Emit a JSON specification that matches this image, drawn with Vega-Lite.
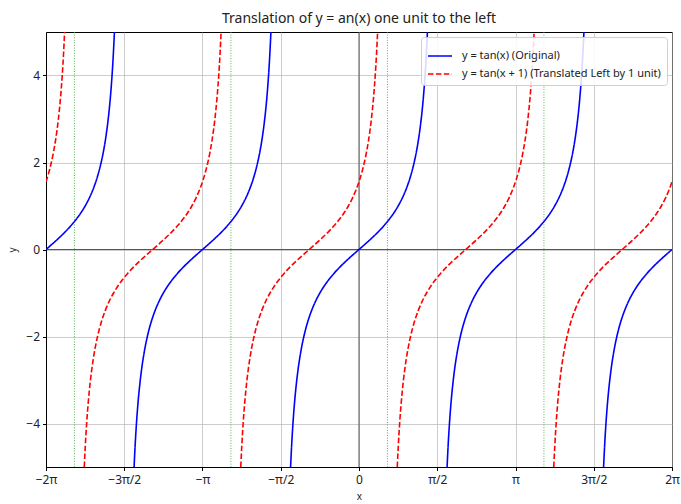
{
  "$schema": "https://vega.github.io/schema/vega-lite/v6.json",
  "width": 626,
  "height": 435,
  "autosize": {"type": "none"},
  "padding": {"left": 46, "top": 32, "right": 9, "bottom": 37},
  "background": "white",
  "title": {
    "text": "Translation of y = an(x) one unit to the left",
    "font": "Noto Sans",
    "fontSize": 14,
    "fontWeight": "normal",
    "color": "#222",
    "anchor": "middle",
    "offset": 6
  },
  "config": {
    "font": "Noto Sans",
    "view": {"stroke": "#000", "strokeWidth": 1},
    "axis": {
      "labelFont": "Noto Sans",
      "labelFontSize": 12,
      "labelColor": "#222",
      "titleFont": "Noto Sans",
      "titleFontSize": 10,
      "titleFontWeight": "normal",
      "titleColor": "#222",
      "tickColor": "#000",
      "tickSize": 3.5,
      "domainColor": "#000",
      "gridColor": "#b0b0b0",
      "gridWidth": 0.8,
      "gridOpacity": 0.8
    }
  },
  "datasets": {
    "asymptotes": [
      {"x": -5.7124},
      {"x": -2.5708},
      {"x": 0.5708},
      {"x": 3.7124}
    ],
    "curves": [
      {"curve": "orig", "branch": "b1", "x": -6.2832, "y": 0},
      {"curve": "orig", "branch": "b1", "x": -6.1835, "y": 0.1},
      {"curve": "orig", "branch": "b1", "x": -6.0382, "y": 0.25},
      {"curve": "orig", "branch": "b1", "x": -5.9027, "y": 0.4},
      {"curve": "orig", "branch": "b1", "x": -5.7804, "y": 0.55},
      {"curve": "orig", "branch": "b1", "x": -5.6725, "y": 0.7},
      {"curve": "orig", "branch": "b1", "x": -5.5787, "y": 0.85},
      {"curve": "orig", "branch": "b1", "x": -5.4978, "y": 1},
      {"curve": "orig", "branch": "b1", "x": -5.4071, "y": 1.2},
      {"curve": "orig", "branch": "b1", "x": -5.3327, "y": 1.4},
      {"curve": "orig", "branch": "b1", "x": -5.2710, "y": 1.6},
      {"curve": "orig", "branch": "b1", "x": -5.2195, "y": 1.8},
      {"curve": "orig", "branch": "b1", "x": -5.1761, "y": 2},
      {"curve": "orig", "branch": "b1", "x": -5.1306, "y": 2.25},
      {"curve": "orig", "branch": "b1", "x": -5.0929, "y": 2.5},
      {"curve": "orig", "branch": "b1", "x": -5.0612, "y": 2.75},
      {"curve": "orig", "branch": "b1", "x": -5.0342, "y": 3},
      {"curve": "orig", "branch": "b1", "x": -4.9907, "y": 3.5},
      {"curve": "orig", "branch": "b1", "x": -4.9574, "y": 4},
      {"curve": "orig", "branch": "b1", "x": -4.9311, "y": 4.5},
      {"curve": "orig", "branch": "b1", "x": -4.9098, "y": 5},

      {"curve": "orig", "branch": "b2", "x": -4.5150, "y": -5},
      {"curve": "orig", "branch": "b2", "x": -4.4937, "y": -4.5},
      {"curve": "orig", "branch": "b2", "x": -4.4674, "y": -4},
      {"curve": "orig", "branch": "b2", "x": -4.4341, "y": -3.5},
      {"curve": "orig", "branch": "b2", "x": -4.3906, "y": -3},
      {"curve": "orig", "branch": "b2", "x": -4.3636, "y": -2.75},
      {"curve": "orig", "branch": "b2", "x": -4.3319, "y": -2.5},
      {"curve": "orig", "branch": "b2", "x": -4.2942, "y": -2.25},
      {"curve": "orig", "branch": "b2", "x": -4.2487, "y": -2},
      {"curve": "orig", "branch": "b2", "x": -4.2053, "y": -1.8},
      {"curve": "orig", "branch": "b2", "x": -4.1538, "y": -1.6},
      {"curve": "orig", "branch": "b2", "x": -4.0921, "y": -1.4},
      {"curve": "orig", "branch": "b2", "x": -4.0177, "y": -1.2},
      {"curve": "orig", "branch": "b2", "x": -3.9270, "y": -1},
      {"curve": "orig", "branch": "b2", "x": -3.8461, "y": -0.85},
      {"curve": "orig", "branch": "b2", "x": -3.7523, "y": -0.7},
      {"curve": "orig", "branch": "b2", "x": -3.6444, "y": -0.55},
      {"curve": "orig", "branch": "b2", "x": -3.5221, "y": -0.4},
      {"curve": "orig", "branch": "b2", "x": -3.3866, "y": -0.25},
      {"curve": "orig", "branch": "b2", "x": -3.2413, "y": -0.1},
      {"curve": "orig", "branch": "b2", "x": -3.1416, "y": 0},
      {"curve": "orig", "branch": "b2", "x": -3.0419, "y": 0.1},
      {"curve": "orig", "branch": "b2", "x": -2.8966, "y": 0.25},
      {"curve": "orig", "branch": "b2", "x": -2.7611, "y": 0.4},
      {"curve": "orig", "branch": "b2", "x": -2.6388, "y": 0.55},
      {"curve": "orig", "branch": "b2", "x": -2.5309, "y": 0.7},
      {"curve": "orig", "branch": "b2", "x": -2.4371, "y": 0.85},
      {"curve": "orig", "branch": "b2", "x": -2.3562, "y": 1},
      {"curve": "orig", "branch": "b2", "x": -2.2655, "y": 1.2},
      {"curve": "orig", "branch": "b2", "x": -2.1911, "y": 1.4},
      {"curve": "orig", "branch": "b2", "x": -2.1294, "y": 1.6},
      {"curve": "orig", "branch": "b2", "x": -2.0779, "y": 1.8},
      {"curve": "orig", "branch": "b2", "x": -2.0345, "y": 2},
      {"curve": "orig", "branch": "b2", "x": -1.9890, "y": 2.25},
      {"curve": "orig", "branch": "b2", "x": -1.9513, "y": 2.5},
      {"curve": "orig", "branch": "b2", "x": -1.9196, "y": 2.75},
      {"curve": "orig", "branch": "b2", "x": -1.8926, "y": 3},
      {"curve": "orig", "branch": "b2", "x": -1.8491, "y": 3.5},
      {"curve": "orig", "branch": "b2", "x": -1.8158, "y": 4},
      {"curve": "orig", "branch": "b2", "x": -1.7895, "y": 4.5},
      {"curve": "orig", "branch": "b2", "x": -1.7682, "y": 5},

      {"curve": "orig", "branch": "b3", "x": -1.3734, "y": -5},
      {"curve": "orig", "branch": "b3", "x": -1.3521, "y": -4.5},
      {"curve": "orig", "branch": "b3", "x": -1.3258, "y": -4},
      {"curve": "orig", "branch": "b3", "x": -1.2925, "y": -3.5},
      {"curve": "orig", "branch": "b3", "x": -1.2490, "y": -3},
      {"curve": "orig", "branch": "b3", "x": -1.2220, "y": -2.75},
      {"curve": "orig", "branch": "b3", "x": -1.1903, "y": -2.5},
      {"curve": "orig", "branch": "b3", "x": -1.1526, "y": -2.25},
      {"curve": "orig", "branch": "b3", "x": -1.1071, "y": -2},
      {"curve": "orig", "branch": "b3", "x": -1.0637, "y": -1.8},
      {"curve": "orig", "branch": "b3", "x": -1.0122, "y": -1.6},
      {"curve": "orig", "branch": "b3", "x": -0.9505, "y": -1.4},
      {"curve": "orig", "branch": "b3", "x": -0.8761, "y": -1.2},
      {"curve": "orig", "branch": "b3", "x": -0.7854, "y": -1},
      {"curve": "orig", "branch": "b3", "x": -0.7045, "y": -0.85},
      {"curve": "orig", "branch": "b3", "x": -0.6107, "y": -0.7},
      {"curve": "orig", "branch": "b3", "x": -0.5028, "y": -0.55},
      {"curve": "orig", "branch": "b3", "x": -0.3805, "y": -0.4},
      {"curve": "orig", "branch": "b3", "x": -0.2450, "y": -0.25},
      {"curve": "orig", "branch": "b3", "x": -0.0997, "y": -0.1},
      {"curve": "orig", "branch": "b3", "x": 0, "y": 0},
      {"curve": "orig", "branch": "b3", "x": 0.0997, "y": 0.1},
      {"curve": "orig", "branch": "b3", "x": 0.2450, "y": 0.25},
      {"curve": "orig", "branch": "b3", "x": 0.3805, "y": 0.4},
      {"curve": "orig", "branch": "b3", "x": 0.5028, "y": 0.55},
      {"curve": "orig", "branch": "b3", "x": 0.6107, "y": 0.7},
      {"curve": "orig", "branch": "b3", "x": 0.7045, "y": 0.85},
      {"curve": "orig", "branch": "b3", "x": 0.7854, "y": 1},
      {"curve": "orig", "branch": "b3", "x": 0.8761, "y": 1.2},
      {"curve": "orig", "branch": "b3", "x": 0.9505, "y": 1.4},
      {"curve": "orig", "branch": "b3", "x": 1.0122, "y": 1.6},
      {"curve": "orig", "branch": "b3", "x": 1.0637, "y": 1.8},
      {"curve": "orig", "branch": "b3", "x": 1.1071, "y": 2},
      {"curve": "orig", "branch": "b3", "x": 1.1526, "y": 2.25},
      {"curve": "orig", "branch": "b3", "x": 1.1903, "y": 2.5},
      {"curve": "orig", "branch": "b3", "x": 1.2220, "y": 2.75},
      {"curve": "orig", "branch": "b3", "x": 1.2490, "y": 3},
      {"curve": "orig", "branch": "b3", "x": 1.2925, "y": 3.5},
      {"curve": "orig", "branch": "b3", "x": 1.3258, "y": 4},
      {"curve": "orig", "branch": "b3", "x": 1.3521, "y": 4.5},
      {"curve": "orig", "branch": "b3", "x": 1.3734, "y": 5},

      {"curve": "orig", "branch": "b4", "x": 1.7682, "y": -5},
      {"curve": "orig", "branch": "b4", "x": 1.7895, "y": -4.5},
      {"curve": "orig", "branch": "b4", "x": 1.8158, "y": -4},
      {"curve": "orig", "branch": "b4", "x": 1.8491, "y": -3.5},
      {"curve": "orig", "branch": "b4", "x": 1.8926, "y": -3},
      {"curve": "orig", "branch": "b4", "x": 1.9196, "y": -2.75},
      {"curve": "orig", "branch": "b4", "x": 1.9513, "y": -2.5},
      {"curve": "orig", "branch": "b4", "x": 1.9890, "y": -2.25},
      {"curve": "orig", "branch": "b4", "x": 2.0345, "y": -2},
      {"curve": "orig", "branch": "b4", "x": 2.0779, "y": -1.8},
      {"curve": "orig", "branch": "b4", "x": 2.1294, "y": -1.6},
      {"curve": "orig", "branch": "b4", "x": 2.1911, "y": -1.4},
      {"curve": "orig", "branch": "b4", "x": 2.2655, "y": -1.2},
      {"curve": "orig", "branch": "b4", "x": 2.3562, "y": -1},
      {"curve": "orig", "branch": "b4", "x": 2.4371, "y": -0.85},
      {"curve": "orig", "branch": "b4", "x": 2.5309, "y": -0.7},
      {"curve": "orig", "branch": "b4", "x": 2.6388, "y": -0.55},
      {"curve": "orig", "branch": "b4", "x": 2.7611, "y": -0.4},
      {"curve": "orig", "branch": "b4", "x": 2.8966, "y": -0.25},
      {"curve": "orig", "branch": "b4", "x": 3.0419, "y": -0.1},
      {"curve": "orig", "branch": "b4", "x": 3.1416, "y": 0},
      {"curve": "orig", "branch": "b4", "x": 3.2413, "y": 0.1},
      {"curve": "orig", "branch": "b4", "x": 3.3866, "y": 0.25},
      {"curve": "orig", "branch": "b4", "x": 3.5221, "y": 0.4},
      {"curve": "orig", "branch": "b4", "x": 3.6444, "y": 0.55},
      {"curve": "orig", "branch": "b4", "x": 3.7523, "y": 0.7},
      {"curve": "orig", "branch": "b4", "x": 3.8461, "y": 0.85},
      {"curve": "orig", "branch": "b4", "x": 3.9270, "y": 1},
      {"curve": "orig", "branch": "b4", "x": 4.0177, "y": 1.2},
      {"curve": "orig", "branch": "b4", "x": 4.0921, "y": 1.4},
      {"curve": "orig", "branch": "b4", "x": 4.1538, "y": 1.6},
      {"curve": "orig", "branch": "b4", "x": 4.2053, "y": 1.8},
      {"curve": "orig", "branch": "b4", "x": 4.2487, "y": 2},
      {"curve": "orig", "branch": "b4", "x": 4.2942, "y": 2.25},
      {"curve": "orig", "branch": "b4", "x": 4.3319, "y": 2.5},
      {"curve": "orig", "branch": "b4", "x": 4.3636, "y": 2.75},
      {"curve": "orig", "branch": "b4", "x": 4.3906, "y": 3},
      {"curve": "orig", "branch": "b4", "x": 4.4341, "y": 3.5},
      {"curve": "orig", "branch": "b4", "x": 4.4674, "y": 4},
      {"curve": "orig", "branch": "b4", "x": 4.4937, "y": 4.5},
      {"curve": "orig", "branch": "b4", "x": 4.5150, "y": 5},

      {"curve": "orig", "branch": "b5", "x": 4.9098, "y": -5},
      {"curve": "orig", "branch": "b5", "x": 4.9311, "y": -4.5},
      {"curve": "orig", "branch": "b5", "x": 4.9574, "y": -4},
      {"curve": "orig", "branch": "b5", "x": 4.9907, "y": -3.5},
      {"curve": "orig", "branch": "b5", "x": 5.0342, "y": -3},
      {"curve": "orig", "branch": "b5", "x": 5.0612, "y": -2.75},
      {"curve": "orig", "branch": "b5", "x": 5.0929, "y": -2.5},
      {"curve": "orig", "branch": "b5", "x": 5.1306, "y": -2.25},
      {"curve": "orig", "branch": "b5", "x": 5.1761, "y": -2},
      {"curve": "orig", "branch": "b5", "x": 5.2195, "y": -1.8},
      {"curve": "orig", "branch": "b5", "x": 5.2710, "y": -1.6},
      {"curve": "orig", "branch": "b5", "x": 5.3327, "y": -1.4},
      {"curve": "orig", "branch": "b5", "x": 5.4071, "y": -1.2},
      {"curve": "orig", "branch": "b5", "x": 5.4978, "y": -1},
      {"curve": "orig", "branch": "b5", "x": 5.5787, "y": -0.85},
      {"curve": "orig", "branch": "b5", "x": 5.6725, "y": -0.7},
      {"curve": "orig", "branch": "b5", "x": 5.7804, "y": -0.55},
      {"curve": "orig", "branch": "b5", "x": 5.9027, "y": -0.4},
      {"curve": "orig", "branch": "b5", "x": 6.0382, "y": -0.25},
      {"curve": "orig", "branch": "b5", "x": 6.1835, "y": -0.1},
      {"curve": "orig", "branch": "b5", "x": 6.2832, "y": 0},

      {"curve": "shift", "branch": "r1", "x": -6.2832, "y": 1.5574},
      {"curve": "shift", "branch": "r1", "x": -6.2710, "y": 1.6},
      {"curve": "shift", "branch": "r1", "x": -6.2195, "y": 1.8},
      {"curve": "shift", "branch": "r1", "x": -6.1761, "y": 2},
      {"curve": "shift", "branch": "r1", "x": -6.1306, "y": 2.25},
      {"curve": "shift", "branch": "r1", "x": -6.0929, "y": 2.5},
      {"curve": "shift", "branch": "r1", "x": -6.0612, "y": 2.75},
      {"curve": "shift", "branch": "r1", "x": -6.0342, "y": 3},
      {"curve": "shift", "branch": "r1", "x": -5.9907, "y": 3.5},
      {"curve": "shift", "branch": "r1", "x": -5.9574, "y": 4},
      {"curve": "shift", "branch": "r1", "x": -5.9311, "y": 4.5},
      {"curve": "shift", "branch": "r1", "x": -5.9098, "y": 5},

      {"curve": "shift", "branch": "r2", "x": -5.5150, "y": -5},
      {"curve": "shift", "branch": "r2", "x": -5.4937, "y": -4.5},
      {"curve": "shift", "branch": "r2", "x": -5.4674, "y": -4},
      {"curve": "shift", "branch": "r2", "x": -5.4341, "y": -3.5},
      {"curve": "shift", "branch": "r2", "x": -5.3906, "y": -3},
      {"curve": "shift", "branch": "r2", "x": -5.3636, "y": -2.75},
      {"curve": "shift", "branch": "r2", "x": -5.3319, "y": -2.5},
      {"curve": "shift", "branch": "r2", "x": -5.2942, "y": -2.25},
      {"curve": "shift", "branch": "r2", "x": -5.2487, "y": -2},
      {"curve": "shift", "branch": "r2", "x": -5.2053, "y": -1.8},
      {"curve": "shift", "branch": "r2", "x": -5.1538, "y": -1.6},
      {"curve": "shift", "branch": "r2", "x": -5.0921, "y": -1.4},
      {"curve": "shift", "branch": "r2", "x": -5.0177, "y": -1.2},
      {"curve": "shift", "branch": "r2", "x": -4.9270, "y": -1},
      {"curve": "shift", "branch": "r2", "x": -4.8461, "y": -0.85},
      {"curve": "shift", "branch": "r2", "x": -4.7523, "y": -0.7},
      {"curve": "shift", "branch": "r2", "x": -4.6444, "y": -0.55},
      {"curve": "shift", "branch": "r2", "x": -4.5221, "y": -0.4},
      {"curve": "shift", "branch": "r2", "x": -4.3866, "y": -0.25},
      {"curve": "shift", "branch": "r2", "x": -4.2413, "y": -0.1},
      {"curve": "shift", "branch": "r2", "x": -4.1416, "y": 0},
      {"curve": "shift", "branch": "r2", "x": -4.0419, "y": 0.1},
      {"curve": "shift", "branch": "r2", "x": -3.8966, "y": 0.25},
      {"curve": "shift", "branch": "r2", "x": -3.7611, "y": 0.4},
      {"curve": "shift", "branch": "r2", "x": -3.6388, "y": 0.55},
      {"curve": "shift", "branch": "r2", "x": -3.5309, "y": 0.7},
      {"curve": "shift", "branch": "r2", "x": -3.4371, "y": 0.85},
      {"curve": "shift", "branch": "r2", "x": -3.3562, "y": 1},
      {"curve": "shift", "branch": "r2", "x": -3.2655, "y": 1.2},
      {"curve": "shift", "branch": "r2", "x": -3.1911, "y": 1.4},
      {"curve": "shift", "branch": "r2", "x": -3.1294, "y": 1.6},
      {"curve": "shift", "branch": "r2", "x": -3.0779, "y": 1.8},
      {"curve": "shift", "branch": "r2", "x": -3.0345, "y": 2},
      {"curve": "shift", "branch": "r2", "x": -2.9890, "y": 2.25},
      {"curve": "shift", "branch": "r2", "x": -2.9513, "y": 2.5},
      {"curve": "shift", "branch": "r2", "x": -2.9196, "y": 2.75},
      {"curve": "shift", "branch": "r2", "x": -2.8926, "y": 3},
      {"curve": "shift", "branch": "r2", "x": -2.8491, "y": 3.5},
      {"curve": "shift", "branch": "r2", "x": -2.8158, "y": 4},
      {"curve": "shift", "branch": "r2", "x": -2.7895, "y": 4.5},
      {"curve": "shift", "branch": "r2", "x": -2.7682, "y": 5},

      {"curve": "shift", "branch": "r3", "x": -2.3734, "y": -5},
      {"curve": "shift", "branch": "r3", "x": -2.3521, "y": -4.5},
      {"curve": "shift", "branch": "r3", "x": -2.3258, "y": -4},
      {"curve": "shift", "branch": "r3", "x": -2.2925, "y": -3.5},
      {"curve": "shift", "branch": "r3", "x": -2.2490, "y": -3},
      {"curve": "shift", "branch": "r3", "x": -2.2220, "y": -2.75},
      {"curve": "shift", "branch": "r3", "x": -2.1903, "y": -2.5},
      {"curve": "shift", "branch": "r3", "x": -2.1526, "y": -2.25},
      {"curve": "shift", "branch": "r3", "x": -2.1071, "y": -2},
      {"curve": "shift", "branch": "r3", "x": -2.0637, "y": -1.8},
      {"curve": "shift", "branch": "r3", "x": -2.0122, "y": -1.6},
      {"curve": "shift", "branch": "r3", "x": -1.9505, "y": -1.4},
      {"curve": "shift", "branch": "r3", "x": -1.8761, "y": -1.2},
      {"curve": "shift", "branch": "r3", "x": -1.7854, "y": -1},
      {"curve": "shift", "branch": "r3", "x": -1.7045, "y": -0.85},
      {"curve": "shift", "branch": "r3", "x": -1.6107, "y": -0.7},
      {"curve": "shift", "branch": "r3", "x": -1.5028, "y": -0.55},
      {"curve": "shift", "branch": "r3", "x": -1.3805, "y": -0.4},
      {"curve": "shift", "branch": "r3", "x": -1.2450, "y": -0.25},
      {"curve": "shift", "branch": "r3", "x": -1.0997, "y": -0.1},
      {"curve": "shift", "branch": "r3", "x": -1.0, "y": 0},
      {"curve": "shift", "branch": "r3", "x": -0.9003, "y": 0.1},
      {"curve": "shift", "branch": "r3", "x": -0.7550, "y": 0.25},
      {"curve": "shift", "branch": "r3", "x": -0.6195, "y": 0.4},
      {"curve": "shift", "branch": "r3", "x": -0.4972, "y": 0.55},
      {"curve": "shift", "branch": "r3", "x": -0.3893, "y": 0.7},
      {"curve": "shift", "branch": "r3", "x": -0.2955, "y": 0.85},
      {"curve": "shift", "branch": "r3", "x": -0.2146, "y": 1},
      {"curve": "shift", "branch": "r3", "x": -0.1239, "y": 1.2},
      {"curve": "shift", "branch": "r3", "x": -0.0495, "y": 1.4},
      {"curve": "shift", "branch": "r3", "x": 0.0122, "y": 1.6},
      {"curve": "shift", "branch": "r3", "x": 0.0637, "y": 1.8},
      {"curve": "shift", "branch": "r3", "x": 0.1071, "y": 2},
      {"curve": "shift", "branch": "r3", "x": 0.1526, "y": 2.25},
      {"curve": "shift", "branch": "r3", "x": 0.1903, "y": 2.5},
      {"curve": "shift", "branch": "r3", "x": 0.2220, "y": 2.75},
      {"curve": "shift", "branch": "r3", "x": 0.2490, "y": 3},
      {"curve": "shift", "branch": "r3", "x": 0.2925, "y": 3.5},
      {"curve": "shift", "branch": "r3", "x": 0.3258, "y": 4},
      {"curve": "shift", "branch": "r3", "x": 0.3521, "y": 4.5},
      {"curve": "shift", "branch": "r3", "x": 0.3734, "y": 5},

      {"curve": "shift", "branch": "r4", "x": 0.7682, "y": -5},
      {"curve": "shift", "branch": "r4", "x": 0.7895, "y": -4.5},
      {"curve": "shift", "branch": "r4", "x": 0.8158, "y": -4},
      {"curve": "shift", "branch": "r4", "x": 0.8491, "y": -3.5},
      {"curve": "shift", "branch": "r4", "x": 0.8926, "y": -3},
      {"curve": "shift", "branch": "r4", "x": 0.9196, "y": -2.75},
      {"curve": "shift", "branch": "r4", "x": 0.9513, "y": -2.5},
      {"curve": "shift", "branch": "r4", "x": 0.9890, "y": -2.25},
      {"curve": "shift", "branch": "r4", "x": 1.0345, "y": -2},
      {"curve": "shift", "branch": "r4", "x": 1.0779, "y": -1.8},
      {"curve": "shift", "branch": "r4", "x": 1.1294, "y": -1.6},
      {"curve": "shift", "branch": "r4", "x": 1.1911, "y": -1.4},
      {"curve": "shift", "branch": "r4", "x": 1.2655, "y": -1.2},
      {"curve": "shift", "branch": "r4", "x": 1.3562, "y": -1},
      {"curve": "shift", "branch": "r4", "x": 1.4371, "y": -0.85},
      {"curve": "shift", "branch": "r4", "x": 1.5309, "y": -0.7},
      {"curve": "shift", "branch": "r4", "x": 1.6388, "y": -0.55},
      {"curve": "shift", "branch": "r4", "x": 1.7611, "y": -0.4},
      {"curve": "shift", "branch": "r4", "x": 1.8966, "y": -0.25},
      {"curve": "shift", "branch": "r4", "x": 2.0419, "y": -0.1},
      {"curve": "shift", "branch": "r4", "x": 2.1416, "y": 0},
      {"curve": "shift", "branch": "r4", "x": 2.2413, "y": 0.1},
      {"curve": "shift", "branch": "r4", "x": 2.3866, "y": 0.25},
      {"curve": "shift", "branch": "r4", "x": 2.5221, "y": 0.4},
      {"curve": "shift", "branch": "r4", "x": 2.6444, "y": 0.55},
      {"curve": "shift", "branch": "r4", "x": 2.7523, "y": 0.7},
      {"curve": "shift", "branch": "r4", "x": 2.8461, "y": 0.85},
      {"curve": "shift", "branch": "r4", "x": 2.9270, "y": 1},
      {"curve": "shift", "branch": "r4", "x": 3.0177, "y": 1.2},
      {"curve": "shift", "branch": "r4", "x": 3.0921, "y": 1.4},
      {"curve": "shift", "branch": "r4", "x": 3.1538, "y": 1.6},
      {"curve": "shift", "branch": "r4", "x": 3.2053, "y": 1.8},
      {"curve": "shift", "branch": "r4", "x": 3.2487, "y": 2},
      {"curve": "shift", "branch": "r4", "x": 3.2942, "y": 2.25},
      {"curve": "shift", "branch": "r4", "x": 3.3319, "y": 2.5},
      {"curve": "shift", "branch": "r4", "x": 3.3636, "y": 2.75},
      {"curve": "shift", "branch": "r4", "x": 3.3906, "y": 3},
      {"curve": "shift", "branch": "r4", "x": 3.4341, "y": 3.5},
      {"curve": "shift", "branch": "r4", "x": 3.4674, "y": 4},
      {"curve": "shift", "branch": "r4", "x": 3.4937, "y": 4.5},
      {"curve": "shift", "branch": "r4", "x": 3.5150, "y": 5},

      {"curve": "shift", "branch": "r5", "x": 3.9098, "y": -5},
      {"curve": "shift", "branch": "r5", "x": 3.9311, "y": -4.5},
      {"curve": "shift", "branch": "r5", "x": 3.9574, "y": -4},
      {"curve": "shift", "branch": "r5", "x": 3.9907, "y": -3.5},
      {"curve": "shift", "branch": "r5", "x": 4.0342, "y": -3},
      {"curve": "shift", "branch": "r5", "x": 4.0612, "y": -2.75},
      {"curve": "shift", "branch": "r5", "x": 4.0929, "y": -2.5},
      {"curve": "shift", "branch": "r5", "x": 4.1306, "y": -2.25},
      {"curve": "shift", "branch": "r5", "x": 4.1761, "y": -2},
      {"curve": "shift", "branch": "r5", "x": 4.2195, "y": -1.8},
      {"curve": "shift", "branch": "r5", "x": 4.2710, "y": -1.6},
      {"curve": "shift", "branch": "r5", "x": 4.3327, "y": -1.4},
      {"curve": "shift", "branch": "r5", "x": 4.4071, "y": -1.2},
      {"curve": "shift", "branch": "r5", "x": 4.4978, "y": -1},
      {"curve": "shift", "branch": "r5", "x": 4.5787, "y": -0.85},
      {"curve": "shift", "branch": "r5", "x": 4.6725, "y": -0.7},
      {"curve": "shift", "branch": "r5", "x": 4.7804, "y": -0.55},
      {"curve": "shift", "branch": "r5", "x": 4.9027, "y": -0.4},
      {"curve": "shift", "branch": "r5", "x": 5.0382, "y": -0.25},
      {"curve": "shift", "branch": "r5", "x": 5.1835, "y": -0.1},
      {"curve": "shift", "branch": "r5", "x": 5.2832, "y": 0},
      {"curve": "shift", "branch": "r5", "x": 5.3829, "y": 0.1},
      {"curve": "shift", "branch": "r5", "x": 5.5282, "y": 0.25},
      {"curve": "shift", "branch": "r5", "x": 5.6637, "y": 0.4},
      {"curve": "shift", "branch": "r5", "x": 5.7860, "y": 0.55},
      {"curve": "shift", "branch": "r5", "x": 5.8939, "y": 0.7},
      {"curve": "shift", "branch": "r5", "x": 5.9877, "y": 0.85},
      {"curve": "shift", "branch": "r5", "x": 6.0686, "y": 1},
      {"curve": "shift", "branch": "r5", "x": 6.1593, "y": 1.2},
      {"curve": "shift", "branch": "r5", "x": 6.2337, "y": 1.4},
      {"curve": "shift", "branch": "r5", "x": 6.2832, "y": 1.5574}
    ]
  },
  "layer": [
    {
      "data": {"name": "asymptotes"},
      "mark": {"type": "rule", "color": "#2e9e2e", "strokeWidth": 1, "strokeDash": [1, 1.6], "opacity": 0.8},
      "encoding": {
        "x": {"field": "x", "type": "quantitative", "scale": {"domain": [-6.283185, 6.283185], "nice": false, "zero": false}}
      }
    },
    {
      "data": {"values": [{"zero": 0}]},
      "mark": {"type": "rule", "color": "#555", "strokeWidth": 1},
      "encoding": {"y": {"field": "zero", "type": "quantitative"}}
    },
    {
      "data": {"values": [{"zero": 0}]},
      "mark": {"type": "rule", "color": "#555", "strokeWidth": 1},
      "encoding": {"x": {"field": "zero", "type": "quantitative"}}
    },
    {
      "data": {"name": "curves"},
      "mark": {"type": "line", "interpolate": "monotone", "strokeWidth": 1.6, "clip": true},
      "encoding": {
        "x": {
          "field": "x",
          "type": "quantitative",
          "scale": {"domain": [-6.283185, 6.283185], "nice": false, "zero": false},
          "axis": {
            "title": "x",
            "values": [-6.283185, -4.712389, -3.141593, -1.570796, 0, 1.570796, 3.141593, 4.712389, 6.283185],
            "labelExpr": "['−2π','−3π/2','−π','−π/2','0','π/2','π','3π/2','2π'][round(datum.value / PI * 2) + 4]",
            "labelPadding": 4,
            "titlePadding": 6,
            "labelFlush": false,
            "grid": true
          }
        },
        "y": {
          "field": "y",
          "type": "quantitative",
          "scale": {"domain": [-5, 5], "nice": false, "zero": false},
          "axis": {
            "title": "y",
            "values": [-4, -2, 0, 2, 4],
            "labelPadding": 3,
            "titlePadding": 8,
            "grid": true
          }
        },
        "detail": {"field": "branch"},
        "color": {
          "field": "curve",
          "type": "nominal",
          "scale": {"domain": ["orig", "shift"], "range": ["#0000ff", "#ff0000"]},
          "legend": {
            "title": null,
            "orient": "top-right",
            "offset": 5,
            "labelExpr": "datum.label == 'orig' ? 'y = tan(x) (Original)' : 'y = tan(x + 1) (Translated Left by 1 unit)'",
            "labelFont": "Noto Sans",
            "labelFontSize": 11,
            "labelLimit": 400,
            "labelOffset": 9,
            "labelColor": "#222",
            "symbolType": "stroke",
            "symbolSize": 576,
            "symbolStrokeWidth": 1.6,
            "rowPadding": -4,
            "padding": 6,
            "fillColor": "rgba(255,255,255,0.85)",
            "strokeColor": "#d0d0d0",
            "cornerRadius": 3
          }
        },
        "strokeDash": {
          "field": "curve",
          "type": "nominal",
          "scale": {"domain": ["orig", "shift"], "range": [[1, 0], [5.5, 2.4]]},
          "legend": {
            "title": null,
            "orient": "top-right",
            "offset": 5,
            "labelExpr": "datum.label == 'orig' ? 'y = tan(x) (Original)' : 'y = tan(x + 1) (Translated Left by 1 unit)'",
            "labelFont": "Noto Sans",
            "labelFontSize": 11,
            "labelLimit": 400,
            "labelOffset": 9,
            "labelColor": "#222",
            "symbolType": "stroke",
            "symbolSize": 576,
            "symbolStrokeWidth": 1.6,
            "rowPadding": -4,
            "padding": 6,
            "fillColor": "rgba(255,255,255,0.85)",
            "strokeColor": "#d0d0d0",
            "cornerRadius": 3
          }
        }
      }
    }
  ]
}
